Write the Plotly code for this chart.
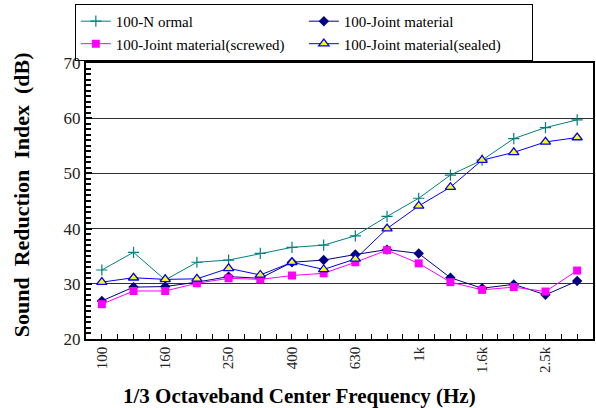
import plotly.graph_objects as go

freqs = ["100", "125", "160", "200", "250", "315", "400", "500", "630",
         "800", "1k", "1.25k", "1.6k", "2k", "2.5k", "3.15k"]
tick_labels = ["100", "160", "250", "400", "630", "1k", "1.6k", "2.5k"]

normal = [32.5, 35.7, 30.7, 33.9, 34.3, 35.5, 36.6, 37.0, 38.7, 42.2, 45.5, 49.7, 52.4, 56.3, 58.3, 59.7]
joint = [26.9, 29.4, 29.5, 30.3, 31.3, 31.0, 33.9, 34.3, 35.3, 36.2, 35.5, 31.1, 29.2, 29.9, 28.0, 30.5]
screwed = [26.3, 28.7, 28.7, 30.1, 31.0, 30.8, 31.5, 31.9, 33.9, 36.1, 33.7, 30.3, 28.9, 29.4, 28.6, 32.4]
sealed = [30.3, 31.1, 30.8, 30.9, 32.8, 31.6, 33.9, 32.6, 34.5, 40.0, 44.1, 47.5, 52.4, 53.8, 55.7, 56.5]

x = list(range(len(freqs)))
tick_pos = [freqs.index(t) for t in tick_labels]

serif = "Liberation Serif"

fig = go.Figure()
fig.add_trace(go.Scatter(x=x, y=normal, name="100-N ormal", mode="lines+markers",
                         line=dict(color="#008080", width=1),
                         marker=dict(symbol="cross-thin", size=8, line=dict(color="#008080", width=1.2))))
fig.add_trace(go.Scatter(x=x, y=joint, name="100-Joint material", mode="lines+markers",
                         line=dict(color="#000080", width=1),
                         marker=dict(symbol="diamond", size=8, color="#000080")))
fig.add_trace(go.Scatter(x=x, y=screwed, name="100-Joint material(screwed)", mode="lines+markers",
                         line=dict(color="#FF00FF", width=1),
                         marker=dict(symbol="square", size=8, color="#FF00FF")))
fig.add_trace(go.Scatter(x=x, y=sealed, name="100-Joint material(sealed)", mode="lines+markers",
                         line=dict(color="#0000FF", width=1),
                         marker=dict(symbol="triangle-up", size=9, color="#FFFF00",
                                     line=dict(color="#0000FF", width=1.3))))

fig.update_layout(
    width=596, height=408,
    margin=dict(l=86, r=1, t=63, b=69),
    paper_bgcolor="white", plot_bgcolor="white",
    font=dict(family=serif, color="black", size=15),
    showlegend=True,
    legend=dict(orientation="h", x=-0.022, xanchor="left", y=1.214, yanchor="top",
                bordercolor="black", borderwidth=1, bgcolor="rgba(255,255,255,0)",
                entrywidth=183, entrywidthmode="pixels",
                font=dict(family=serif, size=15, color="black"),
                tracegroupgap=0, itemwidth=30),
    xaxis=dict(range=[-0.5, len(freqs) - 0.5], tickmode="array", tickvals=tick_pos,
               ticktext=tick_labels, tickangle=-90, ticks="inside", ticklen=5,
               tickcolor="black", showline=True, linecolor="black", linewidth=1.5,
               mirror=True, showgrid=False, zeroline=False,
               tickfont=dict(family=serif, size=15, color="#222"),
               minor=dict(tickmode="linear", tick0=-0.5, dtick=0.5, ticks="inside",
                          ticklen=5, tickcolor="black", showgrid=False)),
    yaxis=dict(range=[20, 70], dtick=10, tick0=20, ticks="inside", ticklen=6,
               tickcolor="black", tickwidth=2, showline=True, linecolor="black",
               linewidth=2, mirror=True, showgrid=True, gridcolor="#303030",
               gridwidth=1, zeroline=False,
               tickfont=dict(family=serif, size=17, color="#222"),
               minor=dict(dtick=1, ticks="inside", ticklen=5, tickcolor="black",
                          showgrid=False)),
    annotations=[
        dict(text="<b>1/3 Octaveband Center Frequency (Hz)</b>", xref="paper", yref="paper",
             x=(300 - 86) / 509, y=-(396 - 339) / 276, xanchor="center", yanchor="middle",
             showarrow=False, font=dict(family=serif, size=21, color="black")),
        dict(text="<b>Sound  Reduction  Index  (dB)</b>", xref="paper", yref="paper",
             x=-(86 - 21) / 509, y=(339 - 195) / 276, xanchor="center", yanchor="middle",
             textangle=-90, showarrow=False, font=dict(family=serif, size=22, color="black")),
    ],
)

fig.write_html("out.html")
